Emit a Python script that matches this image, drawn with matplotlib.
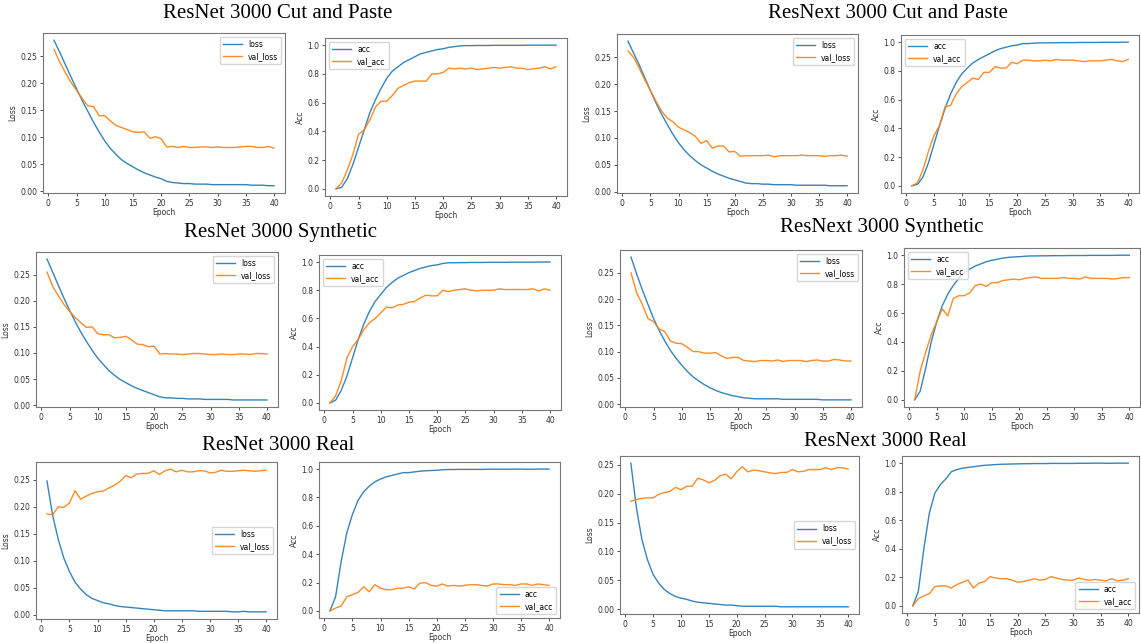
import matplotlib
matplotlib.use("Agg")
import matplotlib.pyplot as plt

epochs = list(range(1, 41))

# ---- ResNet 3000 Cut and Paste ----
resnet_cp_loss = [0.280, 0.258, 0.235, 0.212, 0.190, 0.168, 0.148, 0.128, 0.110, 0.093,
                  0.079, 0.068, 0.058, 0.051, 0.045, 0.039, 0.034, 0.030, 0.026, 0.023,
                  0.018, 0.016, 0.015, 0.014, 0.014, 0.013, 0.013, 0.013, 0.012, 0.012,
                  0.012, 0.012, 0.012, 0.012, 0.012, 0.011, 0.011, 0.011, 0.010, 0.010]
resnet_cp_val_loss = [0.263, 0.240, 0.220, 0.202, 0.187, 0.172, 0.158, 0.157, 0.140, 0.140,
                      0.130, 0.122, 0.118, 0.114, 0.110, 0.109, 0.110, 0.098, 0.101, 0.097,
                      0.082, 0.083, 0.081, 0.083, 0.081, 0.081, 0.082, 0.082, 0.081, 0.082,
                      0.081, 0.081, 0.081, 0.082, 0.083, 0.083, 0.081, 0.081, 0.083, 0.080]
resnet_cp_acc = [0.00, 0.01, 0.07, 0.17, 0.29, 0.41, 0.53, 0.62, 0.70, 0.77,
                 0.82, 0.85, 0.88, 0.90, 0.92, 0.94, 0.95, 0.96, 0.97, 0.975,
                 0.985, 0.99, 0.995, 0.997, 0.997, 0.998, 0.998, 0.998, 0.999, 0.999,
                 0.999, 0.999, 0.999, 0.999, 1.0, 1.0, 1.0, 1.0, 1.0, 1.0]
resnet_cp_val_acc = [0.00, 0.04, 0.13, 0.24, 0.38, 0.41, 0.48, 0.57, 0.61, 0.61,
                     0.65, 0.70, 0.72, 0.74, 0.75, 0.75, 0.75, 0.80, 0.80, 0.81,
                     0.84, 0.835, 0.84, 0.835, 0.84, 0.83, 0.835, 0.84, 0.845, 0.84,
                     0.845, 0.85, 0.84, 0.84, 0.83, 0.835, 0.84, 0.85, 0.835, 0.85]

# ---- ResNext 3000 Cut and Paste ----
resnext_cp_loss = [0.280, 0.258, 0.236, 0.212, 0.188, 0.165, 0.144, 0.125, 0.107, 0.091,
                   0.078, 0.067, 0.058, 0.050, 0.044, 0.038, 0.033, 0.029, 0.025, 0.022,
                   0.019, 0.016, 0.015, 0.015, 0.014, 0.014, 0.013, 0.013, 0.013, 0.013,
                   0.012, 0.012, 0.012, 0.012, 0.012, 0.012, 0.011, 0.011, 0.011, 0.011]
resnext_cp_val_loss = [0.262, 0.250, 0.230, 0.208, 0.188, 0.168, 0.150, 0.137, 0.130, 0.120,
                       0.115, 0.110, 0.103, 0.090, 0.095, 0.081, 0.085, 0.085, 0.074, 0.075,
                       0.066, 0.067, 0.067, 0.067, 0.067, 0.068, 0.065, 0.067, 0.067, 0.067,
                       0.067, 0.068, 0.067, 0.067, 0.067, 0.066, 0.067, 0.067, 0.068, 0.066]
resnext_cp_acc = [0.00, 0.01, 0.06, 0.16, 0.29, 0.42, 0.54, 0.64, 0.72, 0.78,
                  0.82, 0.855, 0.88, 0.90, 0.92, 0.94, 0.955, 0.965, 0.975, 0.98,
                  0.99, 0.99, 0.993, 0.995, 0.995, 0.996, 0.996, 0.997, 0.997, 0.997,
                  0.998, 0.998, 0.998, 0.998, 0.999, 0.999, 0.999, 0.999, 1.0, 1.0]
resnext_cp_val_acc = [0.00, 0.02, 0.11, 0.24, 0.35, 0.42, 0.55, 0.56, 0.64, 0.69,
                      0.72, 0.75, 0.74, 0.79, 0.79, 0.83, 0.82, 0.82, 0.86, 0.85,
                      0.875, 0.875, 0.87, 0.87, 0.875, 0.87, 0.88, 0.875, 0.875, 0.875,
                      0.87, 0.865, 0.87, 0.87, 0.87, 0.875, 0.88, 0.87, 0.865, 0.88]

# ---- ResNet 3000 Synthetic ----
resnet_syn_loss = [0.280, 0.255, 0.230, 0.205, 0.182, 0.160, 0.140, 0.122, 0.105, 0.090,
                   0.078, 0.066, 0.057, 0.049, 0.043, 0.037, 0.032, 0.028, 0.024, 0.020,
                   0.016, 0.014, 0.014, 0.013, 0.013, 0.012, 0.012, 0.012, 0.011, 0.011,
                   0.011, 0.011, 0.011, 0.010, 0.010, 0.010, 0.010, 0.010, 0.010, 0.010]
resnet_syn_val_loss = [0.255, 0.228, 0.210, 0.193, 0.180, 0.168, 0.158, 0.149, 0.150, 0.137,
                       0.135, 0.135, 0.129, 0.130, 0.132, 0.125, 0.117, 0.116, 0.112, 0.113,
                       0.098, 0.099, 0.098, 0.098, 0.097, 0.098, 0.099, 0.099, 0.098, 0.097,
                       0.097, 0.098, 0.097, 0.097, 0.098, 0.098, 0.097, 0.099, 0.099, 0.098]
resnet_syn_acc = [0.00, 0.02, 0.09, 0.19, 0.32, 0.45, 0.56, 0.65, 0.72, 0.77,
                  0.82, 0.855, 0.885, 0.905, 0.925, 0.94, 0.955, 0.965, 0.975, 0.98,
                  0.99, 0.995, 0.995, 0.996, 0.996, 0.997, 0.997, 0.997, 0.998, 0.998,
                  0.998, 0.998, 0.999, 0.999, 0.999, 0.999, 0.999, 1.0, 1.0, 1.0]
resnet_syn_val_acc = [0.00, 0.05, 0.16, 0.32, 0.40, 0.45, 0.52, 0.57, 0.60, 0.64,
                      0.68, 0.675, 0.695, 0.70, 0.715, 0.72, 0.745, 0.765, 0.76, 0.76,
                      0.80, 0.79, 0.80, 0.805, 0.81, 0.80, 0.795, 0.80, 0.80, 0.80,
                      0.81, 0.805, 0.805, 0.805, 0.805, 0.805, 0.81, 0.795, 0.81, 0.80]

# ---- ResNext 3000 Synthetic ----
resnext_syn_loss = [0.280, 0.248, 0.218, 0.190, 0.163, 0.140, 0.120, 0.102, 0.087, 0.074,
                    0.062, 0.052, 0.044, 0.037, 0.031, 0.026, 0.022, 0.019, 0.016, 0.014,
                    0.012, 0.011, 0.010, 0.010, 0.010, 0.010, 0.010, 0.009, 0.009, 0.009,
                    0.009, 0.009, 0.009, 0.009, 0.008, 0.008, 0.008, 0.008, 0.008, 0.008]
resnext_syn_val_loss = [0.250, 0.212, 0.190, 0.163, 0.157, 0.143, 0.138, 0.120, 0.116, 0.115,
                        0.108, 0.100, 0.100, 0.097, 0.097, 0.098, 0.092, 0.087, 0.089, 0.089,
                        0.083, 0.082, 0.081, 0.083, 0.083, 0.082, 0.084, 0.081, 0.083, 0.083,
                        0.083, 0.081, 0.083, 0.084, 0.082, 0.082, 0.085, 0.084, 0.082, 0.082]
resnext_syn_acc = [0.00, 0.06, 0.22, 0.40, 0.54, 0.65, 0.73, 0.79, 0.84, 0.88,
                   0.905, 0.925, 0.94, 0.955, 0.965, 0.972, 0.98, 0.985, 0.988, 0.99,
                   0.993, 0.995, 0.995, 0.996, 0.996, 0.997, 0.997, 0.997, 0.998, 0.998,
                   0.998, 0.998, 0.999, 0.999, 0.999, 0.999, 0.999, 1.0, 1.0, 1.0]
resnext_syn_val_acc = [0.00, 0.20, 0.33, 0.45, 0.54, 0.63, 0.58, 0.70, 0.72, 0.72,
                       0.74, 0.79, 0.80, 0.785, 0.81, 0.81, 0.825, 0.83, 0.835, 0.83,
                       0.84, 0.845, 0.85, 0.84, 0.84, 0.84, 0.84, 0.845, 0.84, 0.84,
                       0.835, 0.85, 0.84, 0.84, 0.84, 0.84, 0.835, 0.84, 0.845, 0.845]

# ---- ResNet 3000 Real ----
resnet_real_loss = [0.248, 0.185, 0.140, 0.105, 0.080, 0.060, 0.047, 0.037, 0.030, 0.026,
                    0.022, 0.020, 0.017, 0.015, 0.014, 0.013, 0.012, 0.011, 0.010, 0.009,
                    0.008, 0.007, 0.007, 0.007, 0.007, 0.007, 0.007, 0.006, 0.006, 0.006,
                    0.006, 0.006, 0.006, 0.005, 0.005, 0.006, 0.005, 0.005, 0.005, 0.005]
resnet_real_val_loss = [0.187, 0.185, 0.200, 0.199, 0.207, 0.230, 0.214, 0.220, 0.225, 0.228,
                        0.229, 0.235, 0.240, 0.247, 0.258, 0.254, 0.261, 0.262, 0.262, 0.267,
                        0.260, 0.267, 0.270, 0.265, 0.268, 0.265, 0.265, 0.267, 0.267, 0.263,
                        0.264, 0.268, 0.266, 0.266, 0.267, 0.268, 0.267, 0.266, 0.267, 0.268]
resnet_real_acc = [0.00, 0.10, 0.35, 0.55, 0.68, 0.78, 0.84, 0.88, 0.91, 0.93,
                   0.945, 0.955, 0.965, 0.975, 0.975, 0.98, 0.985, 0.988, 0.99, 0.992,
                   0.995, 0.997, 0.997, 0.998, 0.998, 0.998, 0.998, 0.998, 0.999, 0.999,
                   0.999, 0.999, 0.999, 1.0, 1.0, 0.999, 0.999, 1.0, 1.0, 1.0]
resnet_real_val_acc = [0.00, 0.02, 0.035, 0.10, 0.115, 0.13, 0.17, 0.135, 0.185, 0.16,
                       0.15, 0.15, 0.16, 0.16, 0.17, 0.155, 0.195, 0.20, 0.18, 0.175,
                       0.19, 0.175, 0.18, 0.175, 0.18, 0.185, 0.185, 0.18, 0.175, 0.19,
                       0.19, 0.185, 0.185, 0.18, 0.19, 0.19, 0.18, 0.19, 0.185, 0.18]

# ---- ResNext 3000 Real ----
resnext_real_loss = [0.253, 0.175, 0.120, 0.085, 0.060, 0.045, 0.034, 0.027, 0.022, 0.019,
                     0.017, 0.014, 0.012, 0.011, 0.010, 0.009, 0.008, 0.007, 0.007, 0.006,
                     0.005, 0.005, 0.005, 0.005, 0.005, 0.005, 0.005, 0.004, 0.004, 0.004,
                     0.004, 0.004, 0.004, 0.004, 0.004, 0.004, 0.004, 0.004, 0.004, 0.004]
resnext_real_val_loss = [0.187, 0.190, 0.192, 0.193, 0.193, 0.199, 0.202, 0.204, 0.211, 0.207,
                         0.213, 0.213, 0.227, 0.224, 0.219, 0.223, 0.231, 0.234, 0.226, 0.238,
                         0.247, 0.238, 0.241, 0.240, 0.238, 0.236, 0.235, 0.237, 0.237, 0.242,
                         0.238, 0.239, 0.242, 0.242, 0.242, 0.245, 0.242, 0.245, 0.245, 0.243]
resnext_real_acc = [0.00, 0.10, 0.40, 0.65, 0.79, 0.85, 0.89, 0.94, 0.955, 0.965,
                    0.97, 0.975, 0.98, 0.985, 0.987, 0.99, 0.992, 0.993, 0.994, 0.995,
                    0.996, 0.996, 0.997, 0.997, 0.997, 0.998, 0.998, 0.998, 0.998, 0.998,
                    0.999, 0.999, 0.999, 1.0, 1.0, 0.999, 0.999, 1.0, 1.0, 1.0]
resnext_real_val_acc = [0.00, 0.05, 0.07, 0.085, 0.135, 0.14, 0.14, 0.125, 0.15, 0.165,
                        0.18, 0.125, 0.16, 0.17, 0.205, 0.195, 0.19, 0.19, 0.18, 0.165,
                        0.17, 0.18, 0.19, 0.18, 0.185, 0.205, 0.195, 0.185, 0.18, 0.18,
                        0.195, 0.185, 0.18, 0.185, 0.18, 0.175, 0.19, 0.175, 0.18, 0.19]

titles = ["ResNet 3000 Cut and Paste", "ResNext 3000 Cut and Paste",
          "ResNet 3000 Synthetic", "ResNext 3000 Synthetic",
          "ResNet 3000 Real", "ResNext 3000 Real"]

W, H = 1141, 643
fig = plt.figure(figsize=(W / 100, H / 100), dpi=100)


def px_axes(left, top, right, bottom):
    return fig.add_axes([left / W, 1 - bottom / H, (right - left) / W, (bottom - top) / H])


def draw(rect, a, b, names, ylabel, loc):
    ax = px_axes(*rect)
    ax.plot(epochs, a, color="#1f77b4", lw=1.0, label=names[0], alpha=0.9)
    ax.plot(epochs, b, color="#ff7f0e", lw=1.0, label=names[1], alpha=0.9)
    ax.set_xticks(range(0, 41, 5))
    if ylabel == "Loss":
        ax.set_yticks([0.0, 0.05, 0.10, 0.15, 0.20, 0.25])
        ax.set_yticklabels(["0.00", "0.05", "0.10", "0.15", "0.20", "0.25"])
    else:
        ax.set_yticks([0.0, 0.2, 0.4, 0.6, 0.8, 1.0])
    ax.set_xlabel("Epoch", fontsize=5.5, labelpad=0.5, color="#333333")
    ax.set_ylabel(ylabel, fontsize=5.5, labelpad=2, color="#333333")
    ax.tick_params(labelsize=5.5, length=2.5, width=0.6, pad=1.5, colors="#333333")
    for s in ax.spines.values():
        s.set_color("#777777")
        s.set_linewidth(0.8)
    ax.legend(loc=loc, fontsize=5.5, handlelength=2.5, borderpad=0.4, labelspacing=0.4)
    return ax


loss_names = ["loss", "val_loss"]
acc_names = ["acc", "val_acc"]

draw((43, 33, 285, 193), resnet_cp_loss, resnet_cp_val_loss, loss_names, "Loss", "upper right")
draw((325, 38, 567, 196), resnet_cp_acc, resnet_cp_val_acc, acc_names, "Acc", "upper left")
draw((617, 34, 858, 193), resnext_cp_loss, resnext_cp_val_loss, loss_names, "Loss", "upper right")
draw((901, 35, 1139, 193), resnext_cp_acc, resnext_cp_val_acc, acc_names, "Acc", "upper left")

draw((36, 252, 278, 407), resnet_syn_loss, resnet_syn_val_loss, loss_names, "Loss", "upper right")
draw((319, 255, 561, 410), resnet_syn_acc, resnet_syn_val_acc, acc_names, "Acc", "upper left")
draw((620, 250, 862, 407), resnext_syn_loss, resnext_syn_val_loss, loss_names, "Loss", "upper right")
draw((904, 248, 1140, 407), resnext_syn_acc, resnext_syn_val_acc, acc_names, "Acc", "upper left")

draw((36, 462, 277, 619), resnet_real_loss, resnet_real_val_loss, loss_names, "Loss", "center right")
draw((319, 462, 560, 618), resnet_real_acc, resnet_real_val_acc, acc_names, "Acc", "lower right")
draw((620, 456, 859, 614), resnext_real_loss, resnext_real_val_loss, loss_names, "Loss", "center right")
draw((902, 456, 1139, 613), resnext_real_acc, resnext_real_val_acc, acc_names, "Acc", "lower right")

# group titles (centre x, centre y in pixels)
title_pos = [(278, 13), (888, 13), (280, 232), (882, 227), (278, 445), (885, 442)]
for t, (x, y) in zip(titles, title_pos):
    fig.text(x / W, 1 - y / H, t, ha="center", va="center",
             fontsize=15, family="Liberation Serif")

fig.savefig("out.png", dpi=100)
